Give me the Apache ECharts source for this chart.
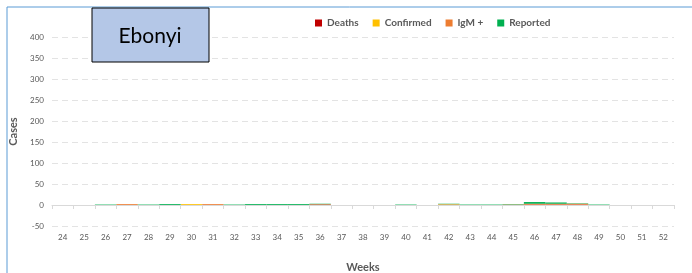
<!DOCTYPE html>
<html>
<head>
<meta charset="utf-8">
<script src="https://cdn.jsdelivr.net/npm/echarts@6/dist/echarts.min.js"></script>
<style>
  html, body { margin: 0; padding: 0; background: #fff; }
  #chart { width: 692px; height: 273px; }
</style>
</head>
<body>
<div id="chart"></div>
<script>
// weeks on the x axis
const weeks = ["24","25","26","27","28","29","30","31","32","33","34","35","36","37","38",
  "39","40","41","42","43","44","45","46","47","48","49","50","51","52"];
// stacked series (all tiny)
const deaths    = [0,0,0,0,0,0,0,0,0,0,0,0,1,0,0,0,0,0,0,0,0,0,1,1,1,0,0,0,0];
const confirmed = [0,0,0,0,0,0,2,0,0,0,0,0,0,0,0,0,0,0,1,0,0,0,0,0,0,0,0,0,0];
const igm       = [0,0,0,2,0,0,0,2,0,0,0,0,1,0,0,0,0,0,1,0,0,1,2,2,2,0,0,0,0];
const reported  = [0,0,1,0,1,2,0,0,1,2,2,2,1,0,0,0,1,0,1,1,1,1,4,3,1,1,0,0,0];

const labelFont = "Lato";
const chart = echarts.init(document.getElementById("chart"));

function bar(name, data, color) {
  return {
    name: name,
    type: "bar",
    stack: "total",
    barCategoryGap: "0%",
    itemStyle: { color: color },
    data: data
  };
}

chart.setOption({
  animation: false,
  textStyle: { fontFamily: labelFont },
  grid: { left: 52, right: 18, top: 37, height: 189, outerBoundsMode: "none", containLabel: false },
  legend: {
    top: 13,
    left: 310,
    icon: "rect",
    itemWidth: 7,
    itemHeight: 7,
    itemGap: 14,
    textStyle: { color: "#595959", fontSize: 10, fontWeight: "bold", fontFamily: labelFont },
    data: ["Deaths", "Confirmed", "IgM +", "Reported"]
  },
  xAxis: {
    type: "category",
    data: weeks,
    name: "Weeks",
    nameLocation: "middle",
    nameGap: 36,
    nameTextStyle: { color: "#595959", fontSize: 11, fontWeight: "bold" },
    axisLine: { onZero: true, lineStyle: { color: "#d9d9d9" } },
    axisTick: { show: true, length: 4, lineStyle: { color: "#d9d9d9" } },
    axisLabel: { color: "#595959", fontSize: 8, margin: 7 }
  },
  yAxis: {
    type: "value",
    min: -50,
    max: 400,
    interval: 50,
    name: "Cases",
    nameLocation: "middle",
    nameGap: 23,
    nameTextStyle: { color: "#595959", fontSize: 11, fontWeight: "bold" },
    axisLine: { show: false },
    axisTick: { show: false },
    axisLabel: { color: "#595959", fontSize: 8, margin: 8 },
    splitLine: { lineStyle: { color: "#e3e3e3", type: [6, 4] } }
  },
  graphic: [
    { type: "line", shape: { x1: 7, y1: 7, x2: 692, y2: 7 }, style: { stroke: "#5b9bd5", lineWidth: 1 } },
    { type: "line", shape: { x1: 7, y1: 7, x2: 7, y2: 273 }, style: { stroke: "#5b9bd5", lineWidth: 1 } },
    {
      type: "rect",
      shape: { x: 92, y: 8, width: 117, height: 54 },
      style: { fill: "#b4c7e7", stroke: "#000", lineWidth: 1 },
      z: 100
    },
    {
      type: "text",
      x: 150, y: 36,
      style: { text: "Ebonyi", fill: "#000", font: "21px Lato", textAlign: "center", textVerticalAlign: "middle" },
      z: 101
    }
  ],
  series: [
    bar("Deaths", deaths, "#c00000"),
    bar("Confirmed", confirmed, "#ffc000"),
    bar("IgM +", igm, "#ed7d31"),
    bar("Reported", reported, "#00b050")
  ]
});
</script>
</body>
</html>
